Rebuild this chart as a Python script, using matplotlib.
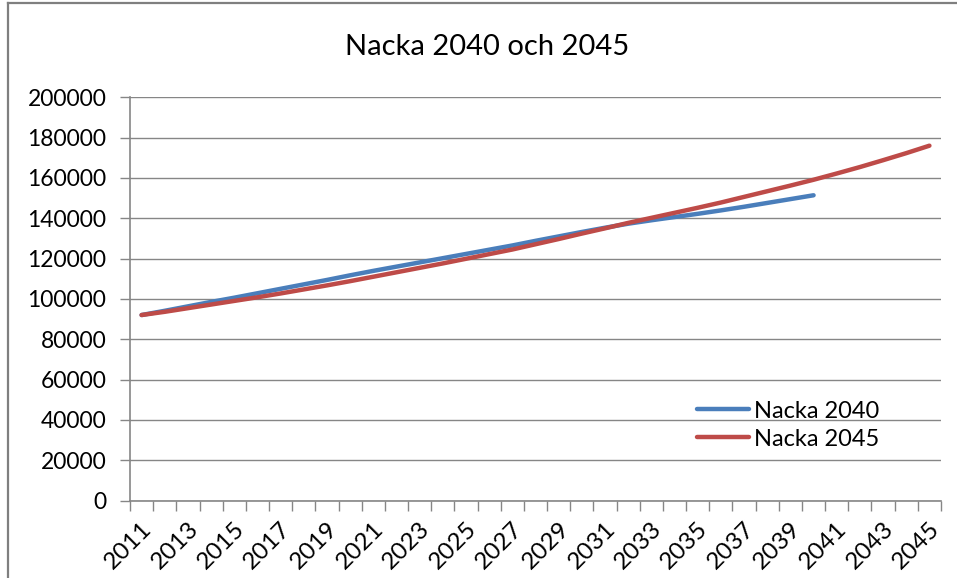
import matplotlib
matplotlib.use('Agg')
import matplotlib.pyplot as plt
import matplotlib.transforms as mtransforms
from matplotlib.lines import Line2D
import numpy as np

# data
years = list(range(2011, 2046))
nacka_2040 = [92000, 94100, 96300, 98500, 100600, 102800, 105000, 107200, 109400, 111700,
              113900, 116000, 118100, 120200, 122300, 124400, 126500, 128800, 131000, 133200,
              135300, 137300, 139000, 140600, 142200, 143900, 145700, 147600, 149500, 151400]
nacka_2045 = [92000, 93600, 95400, 97200, 99000, 100800, 102700, 104700, 106700, 108800,
              111000, 113200, 115400, 117600, 119900, 122200, 124500, 127100, 129700, 132400,
              135000, 137700, 140200, 142700, 145200, 147800, 150600, 153400, 156200, 159100,
              162200, 165400, 168800, 172300, 176000]
series_names = ['Nacka 2040', 'Nacka 2045']
y_ticks = list(range(0, 200001, 20000))

plt.rcParams['font.family'] = ['Lato', 'DejaVu Sans']
grey = '#868686'

fig = plt.figure(figsize=(9.57, 5.78), dpi=100)
ax = fig.add_axes([130 / 957, 77.5 / 578, 811 / 957, 403.2 / 578])

x = np.arange(len(years))
ax.plot(x[:len(nacka_2040)], nacka_2040, color='#4A7EBB', lw=3.2,
        solid_capstyle='round', label=series_names[0])
ax.plot(x[:len(nacka_2045)], nacka_2045, color='#BE4B48', lw=3.2,
        solid_capstyle='round', label=series_names[1])

ax.set_xlim(-0.5, len(years) - 0.5)
ax.set_ylim(0, 200000)

# category boundaries get tick marks, labels sit on every other category
ax.set_xticks(np.arange(-0.5, len(years), 1.0))
ax.set_xticklabels([])
ax.set_xticks(x[::2], minor=True)
ax.set_xticklabels([str(y) for y in years[::2]], minor=True, rotation=45,
                   ha='right', va='center', rotation_mode='anchor', fontsize=17.5)
ax.tick_params(axis='x', which='major', length=7, width=1, color=grey, direction='out')
ax.tick_params(axis='x', which='minor', length=0, pad=18)
shift = mtransforms.ScaledTranslation(7 / 100, 0, fig.dpi_scale_trans)
for lbl in ax.get_xticklabels(minor=True):
    lbl.set_transform(lbl.get_transform() + shift)

ax.set_yticks(y_ticks)
ax.set_yticklabels([str(v) for v in y_ticks], fontsize=16.5)
ax.tick_params(axis='y', length=7, width=1, color=grey, pad=10)
ax.yaxis.grid(True, color=grey, lw=1)
ax.set_axisbelow(True)

for side in ['top', 'right']:
    ax.spines[side].set_visible(False)
for side in ['left', 'bottom']:
    ax.spines[side].set_color(grey)
    ax.spines[side].set_linewidth(1.2)

fig.text(487 / 957, 1 - 47 / 578, 'Nacka 2040 och 2045', ha='center', va='center',
         fontsize=21)

ax.legend(loc='center left', bbox_to_anchor=(0.699, 0.187), frameon=False,
          fontsize=17, handlelength=2.2, handletextpad=0.2, labelspacing=0.3,
          borderpad=0, borderaxespad=0)

# chart border (only the left and top edges are in view)
fig.add_artist(Line2D([8 / 957, 8 / 957], [0, 1 - 3 / 578], color='#7f7f7f', lw=1.6))
fig.add_artist(Line2D([8 / 957, 1], [1 - 3 / 578, 1 - 3 / 578], color='#7f7f7f', lw=1.6))

fig.savefig('out.png', dpi=100)
